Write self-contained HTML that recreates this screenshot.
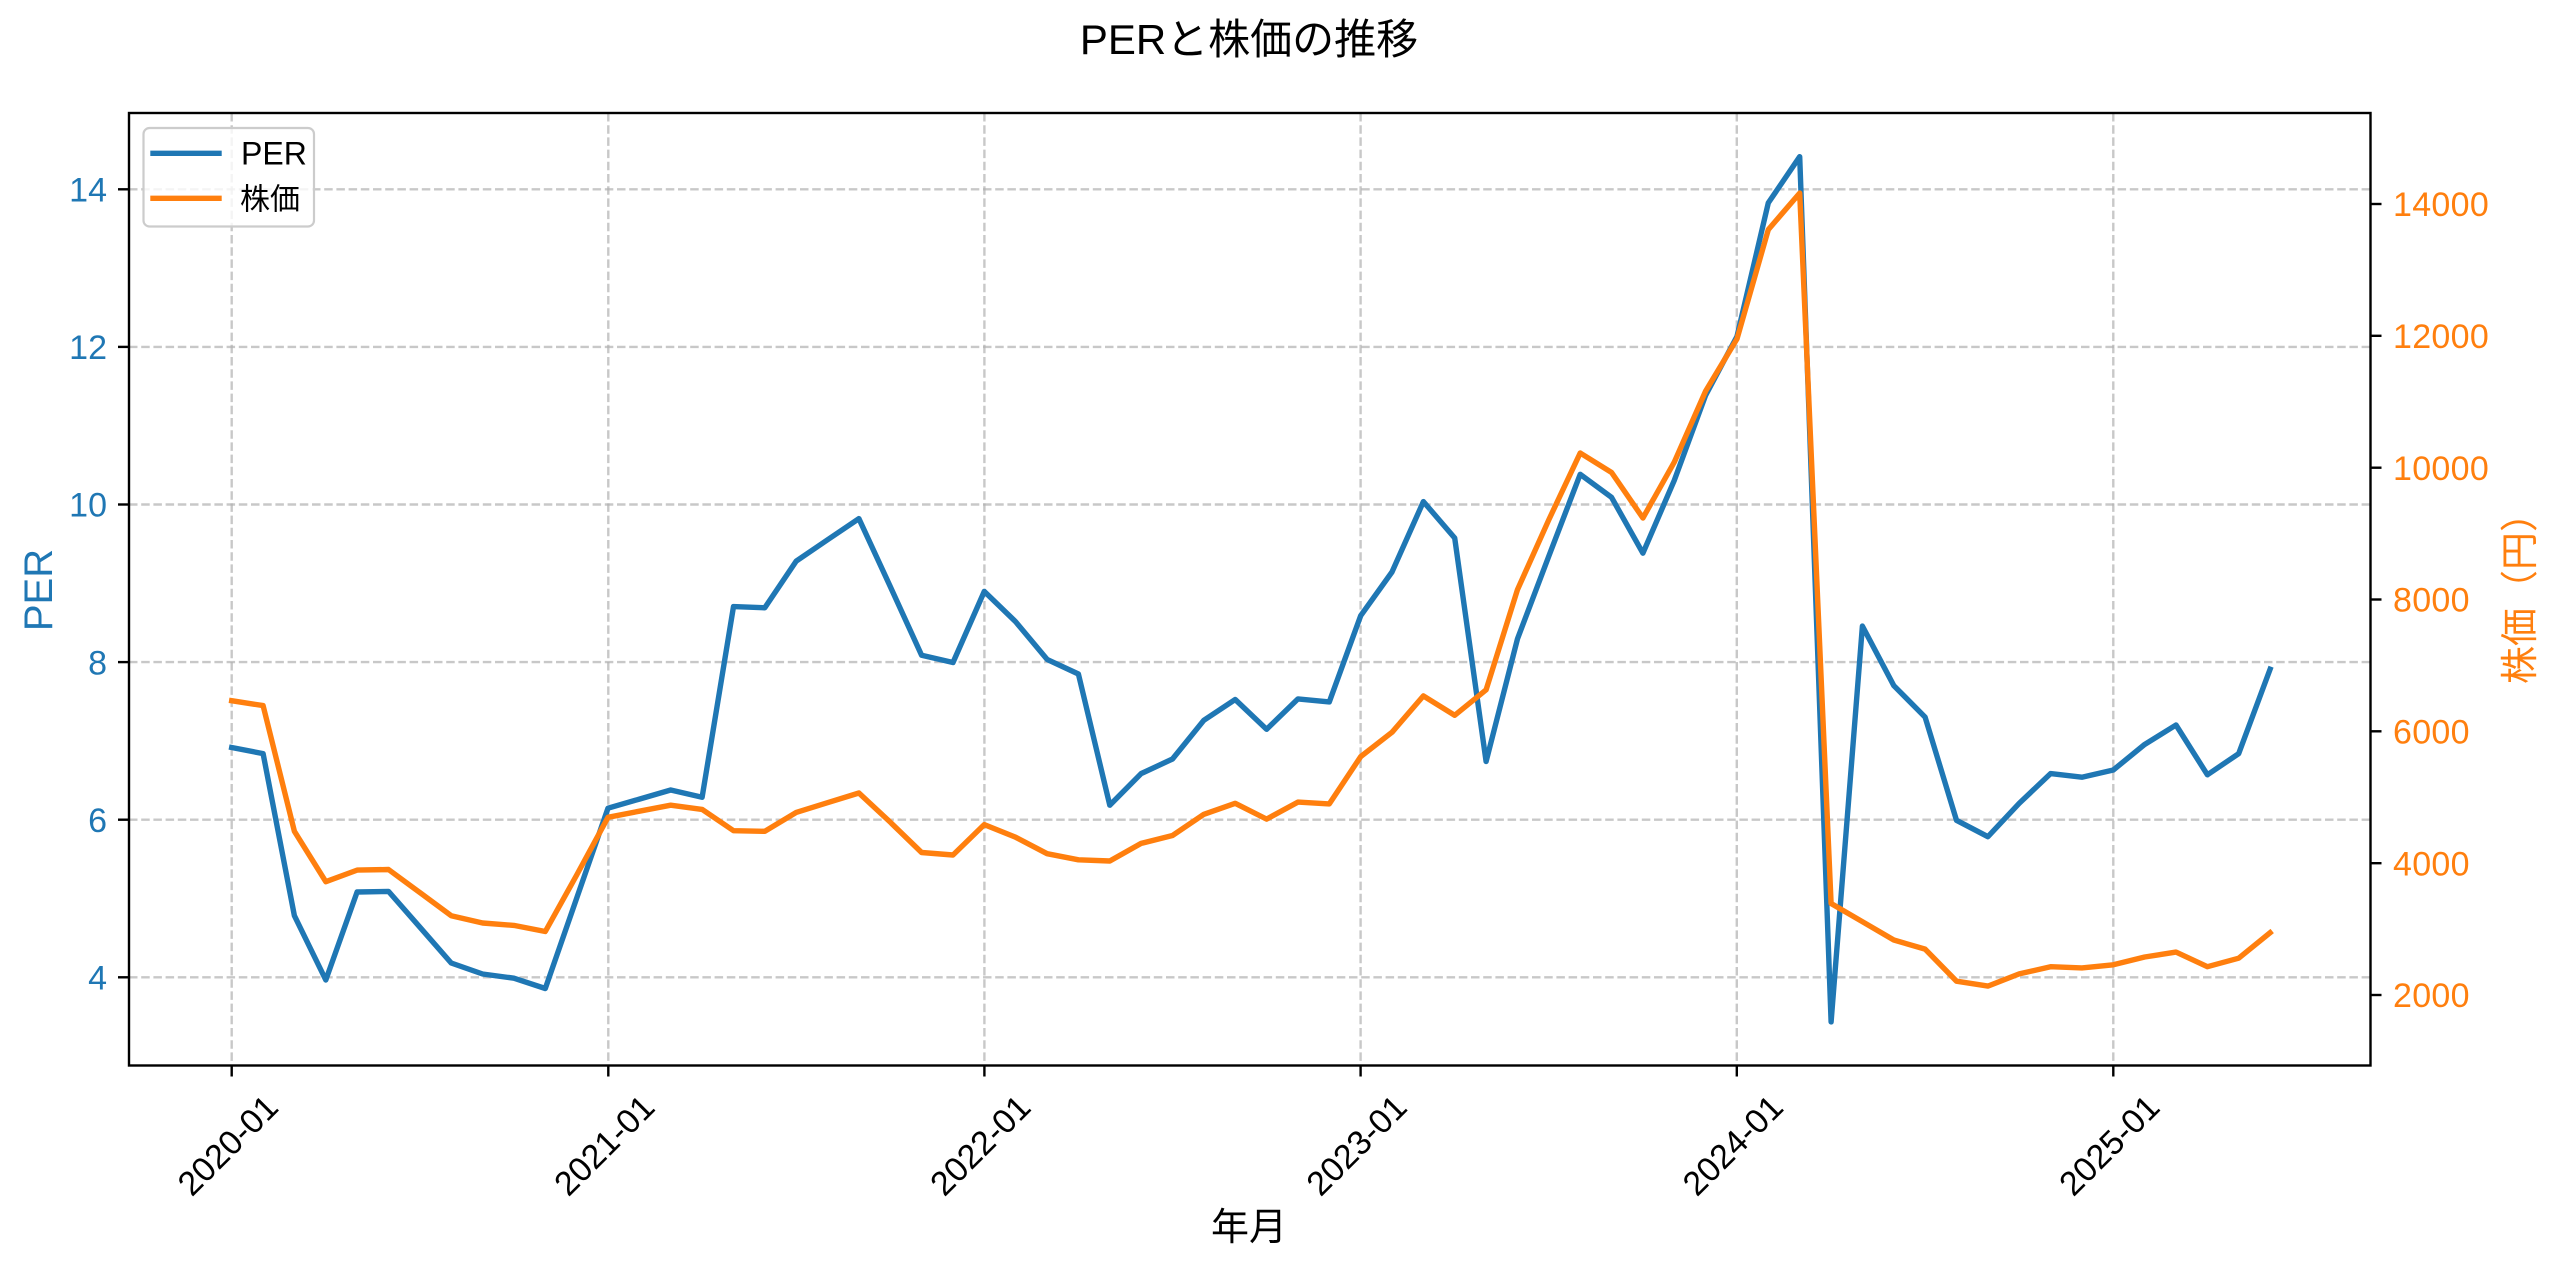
<!DOCTYPE html>
<html>
<head>
<meta charset="utf-8">
<style>
  html,body{margin:0;padding:0;background:#fff;}
  svg{display:block;}
  text{font-family:"Liberation Sans","Noto Sans CJK JP",sans-serif;}
</style>
</head>
<body>
<svg width="2560" height="1269" viewBox="0 0 2560 1269" xmlns="http://www.w3.org/2000/svg">
  <rect x="0" y="0" width="2560" height="1269" fill="#fff"/>

  <!-- Title -->
  <text x="1249" y="54" font-size="42" text-anchor="middle" fill="#000">PERと株価の推移</text>

  <!-- Grid -->
  <g stroke="#b0b0b0" stroke-opacity="0.7" stroke-width="2.4" stroke-dasharray="8.5 3.7" fill="none">
    <line x1="129" y1="977.3" x2="2370.5" y2="977.3"/>
    <line x1="129" y1="819.7" x2="2370.5" y2="819.7"/>
    <line x1="129" y1="662.1" x2="2370.5" y2="662.1"/>
    <line x1="129" y1="504.5" x2="2370.5" y2="504.5"/>
    <line x1="129" y1="346.9" x2="2370.5" y2="346.9"/>
    <line x1="129" y1="189.3" x2="2370.5" y2="189.3"/>
    <line x1="231.7" y1="113" x2="231.7" y2="1065.5"/>
    <line x1="608.3" y1="113" x2="608.3" y2="1065.5"/>
    <line x1="984.4" y1="113" x2="984.4" y2="1065.5"/>
    <line x1="1360.6" y1="113" x2="1360.6" y2="1065.5"/>
    <line x1="1736.8" y1="113" x2="1736.8" y2="1065.5"/>
    <line x1="2113.3" y1="113" x2="2113.3" y2="1065.5"/>
  </g>

  <!-- PER line -->
  <polyline fill="none" stroke="#1f77b4" stroke-width="5.4" stroke-linejoin="round" stroke-linecap="square"
    points="231.7,747.5 263.1,753.6 294.4,915.7 325.8,980.0 357.1,892.0 388.5,891.4 419.9,927.2 451.2,963.0 482.6,974.0 513.9,978.2 545.3,988.5 576.7,898.1 608.0,808.2 639.4,799.1 670.7,790.0 702.1,797.3 733.5,606.6 764.8,607.8 796.2,561.1 827.5,539.8 858.9,518.6 890.3,586.6 921.6,655.2 953.0,662.5 984.3,591.4 1015.7,621.8 1047.1,659.4 1078.4,674.0 1109.8,805.2 1141.1,773.6 1172.5,759.0 1203.9,720.2 1235.2,699.5 1266.6,729.3 1297.9,698.9 1329.3,701.9 1360.7,615.7 1392.0,572.0 1423.4,501.6 1454.7,538.0 1486.1,761.5 1517.5,638.8 1548.8,556.2 1580.2,474.3 1611.5,497.3 1642.9,553.2 1674.3,480.3 1705.6,395.3 1737.0,336.4 1768.3,202.9 1799.7,156.7 1831.1,1021.9 1862.4,626.1 1893.8,685.6 1925.1,717.1 1956.5,820.3 1987.9,836.7 2019.2,803.3 2050.6,773.6 2081.9,777.2 2113.3,770.0 2144.7,744.4 2176.0,725.0 2207.4,774.8 2238.7,753.6 2270.1,669.2"/>

  <!-- Price line -->
  <polyline fill="none" stroke="#ff7f0e" stroke-width="5.4" stroke-linejoin="round" stroke-linecap="square"
    points="231.7,700.7 263.1,705.6 294.4,831.3 325.8,881.7 357.1,870.1 388.5,869.5 419.9,892.6 451.2,915.7 482.6,923.0 513.9,925.4 545.3,931.5 576.7,875.0 608.0,817.3 639.4,811.2 670.7,805.2 702.1,809.4 733.5,830.7 764.8,831.3 796.2,812.4 827.5,802.7 858.9,793.0 890.3,822.2 921.6,852.5 953.0,855.0 984.3,824.6 1015.7,837.3 1047.1,853.7 1078.4,859.8 1109.8,861.0 1141.1,843.4 1172.5,835.5 1203.9,814.3 1235.2,803.3 1266.6,819.1 1297.9,802.1 1329.3,803.9 1360.7,756.6 1392.0,732.3 1423.4,695.9 1454.7,715.3 1486.1,689.8 1517.5,589.6 1548.8,519.8 1580.2,453.0 1611.5,472.4 1642.9,518.0 1674.3,462.1 1705.6,391.1 1737.0,338.9 1768.3,229.6 1799.7,193.1 1831.1,903.5 1862.4,921.7 1893.8,940.0 1925.1,949.1 1956.5,981.2 1987.9,986.1 2019.2,973.9 2050.6,966.7 2081.9,967.9 2113.3,964.8 2144.7,957.0 2176.0,952.1 2207.4,966.7 2238.7,958.2 2270.1,932.7"/>

  <!-- Spines -->
  <rect x="129" y="113" width="2241.5" height="952.5" fill="none" stroke="#000" stroke-width="2.4"/>

  <!-- Left ticks -->
  <g stroke="#000" stroke-width="2.4">
    <line x1="118" y1="977.3" x2="129" y2="977.3"/>
    <line x1="118" y1="819.7" x2="129" y2="819.7"/>
    <line x1="118" y1="662.1" x2="129" y2="662.1"/>
    <line x1="118" y1="504.5" x2="129" y2="504.5"/>
    <line x1="118" y1="346.9" x2="129" y2="346.9"/>
    <line x1="118" y1="189.3" x2="129" y2="189.3"/>
  </g>
  <g font-size="34" fill="#1f77b4" text-anchor="end">
    <text x="107" y="989.5">4</text>
    <text x="107" y="831.9">6</text>
    <text x="107" y="674.3">8</text>
    <text x="107" y="516.7">10</text>
    <text x="107" y="359.1">12</text>
    <text x="107" y="201.5">14</text>
  </g>

  <!-- Right ticks -->
  <g stroke="#000" stroke-width="2.4">
    <line x1="2370.5" y1="995.0" x2="2381.5" y2="995.0"/>
    <line x1="2370.5" y1="863.2" x2="2381.5" y2="863.2"/>
    <line x1="2370.5" y1="731.3" x2="2381.5" y2="731.3"/>
    <line x1="2370.5" y1="599.5" x2="2381.5" y2="599.5"/>
    <line x1="2370.5" y1="467.7" x2="2381.5" y2="467.7"/>
    <line x1="2370.5" y1="335.8" x2="2381.5" y2="335.8"/>
    <line x1="2370.5" y1="204.0" x2="2381.5" y2="204.0"/>
  </g>
  <g font-size="34" fill="#ff7f0e" text-anchor="start" letter-spacing="0.3">
    <text x="2393" y="1007.2">2000</text>
    <text x="2393" y="875.4">4000</text>
    <text x="2393" y="743.5">6000</text>
    <text x="2393" y="611.7">8000</text>
    <text x="2393" y="479.9">10000</text>
    <text x="2393" y="348.0">12000</text>
    <text x="2393" y="216.2">14000</text>
  </g>

  <!-- Bottom ticks -->
  <g stroke="#000" stroke-width="2.4">
    <line x1="231.7" y1="1065.5" x2="231.7" y2="1076.5"/>
    <line x1="608.3" y1="1065.5" x2="608.3" y2="1076.5"/>
    <line x1="984.4" y1="1065.5" x2="984.4" y2="1076.5"/>
    <line x1="1360.6" y1="1065.5" x2="1360.6" y2="1076.5"/>
    <line x1="1736.8" y1="1065.5" x2="1736.8" y2="1076.5"/>
    <line x1="2113.3" y1="1065.5" x2="2113.3" y2="1076.5"/>
  </g>
  <g font-size="34" fill="#000" text-anchor="middle">
    <text transform="translate(227.5,1145) rotate(-45)" dy="12">2020-01</text>
    <text transform="translate(604,1145) rotate(-45)" dy="12">2021-01</text>
    <text transform="translate(980,1145) rotate(-45)" dy="12">2022-01</text>
    <text transform="translate(1356.3,1145) rotate(-45)" dy="12">2023-01</text>
    <text transform="translate(1732.5,1145) rotate(-45)" dy="12">2024-01</text>
    <text transform="translate(2109,1145) rotate(-45)" dy="12">2025-01</text>
  </g>

  <!-- Axis labels -->
  <text x="1249" y="1240" font-size="38" text-anchor="middle" fill="#000">年月</text>
  <text transform="translate(52,590) rotate(-90)" font-size="40" text-anchor="middle" fill="#1f77b4">PER</text>
  <text transform="translate(2533,589) rotate(-90)" font-size="38" text-anchor="middle" fill="#ff7f0e">株価（円）</text>

  <!-- Legend -->
  <rect x="143.5" y="128" width="170.5" height="98.5" rx="6" ry="6" fill="#fff" fill-opacity="0.8" stroke="#cccccc" stroke-width="2.2"/>
  <line x1="153" y1="153.3" x2="219" y2="153.3" stroke="#1f77b4" stroke-width="5.4" stroke-linecap="square"/>
  <line x1="153" y1="198.3" x2="219" y2="198.3" stroke="#ff7f0e" stroke-width="5.4" stroke-linecap="square"/>
  <text x="241" y="164.5" font-size="32" fill="#000">PER</text>
  <text x="240" y="209.5" font-size="30" fill="#000">株価</text>
</svg>
</body>
</html>
